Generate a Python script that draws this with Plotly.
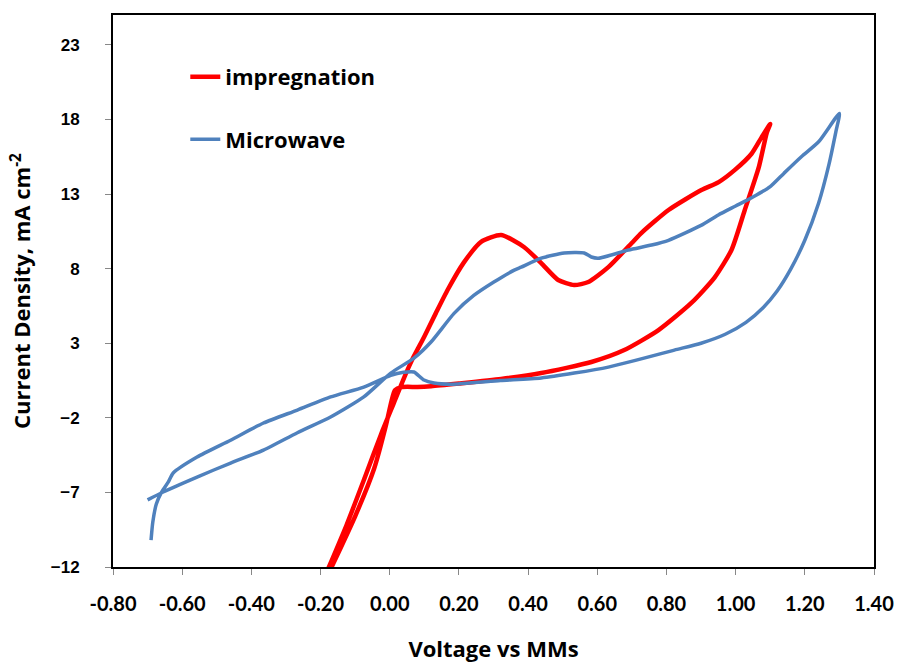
import plotly.graph_objects as go

# Impregnation (red) CV loop: voltage (V vs MMs), current density (mA cm^-2)
imp_v = [-0.168, -0.10, -0.045, -0.012, 0.005, 0.015, 0.035, 0.08, 0.12, 0.20, 0.322, 0.438,
         0.583, 0.678, 0.777, 0.872, 0.939, 0.988, 1.026, 1.067, 1.09, 1.10,
         1.075, 1.046, 0.997, 0.951, 0.901, 0.806, 0.728, 0.699, 0.632, 0.574, 0.533, 0.487, 0.438,
         0.388, 0.322, 0.264, 0.214, 0.168, 0.133, 0.099, 0.065, 0.04, 0.012,
         -0.025, -0.072, -0.125, -0.185]
imp_j = [-12.0, -8.6, -5.4, -2.6, -0.9, -0.15, 0.06, 0.07, 0.12, 0.3, 0.6, 1.0,
         1.74, 2.54, 3.88, 5.7, 7.4, 9.25, 11.9, 14.8, 17.1, 17.7,
         16.8, 15.7, 14.6, 13.8, 13.27, 11.93, 10.4, 9.7, 8.1, 7.1, 6.9, 7.24, 8.37,
         9.45, 10.25, 9.8, 8.4, 6.6, 5.0, 3.4, 1.9, 0.6, -1.0,
         -3.1, -6.0, -9.2, -12.5]

# Microwave (blue) CV loop
mw_v = [-0.69, -0.685, -0.675, -0.66, -0.64, -0.626, -0.557, -0.46, -0.365, -0.267, -0.171,
        -0.075, 0.003, 0.04, 0.07, 0.099, 0.128, 0.177, 0.32, 0.438, 0.632, 0.823, 0.9,
        0.97, 1.03, 1.08, 1.12, 1.16, 1.20, 1.24, 1.27, 1.29, 1.30,
        1.24, 1.19, 1.14, 1.10, 1.05, 1.0, 0.95, 0.90, 0.806, 0.757, 0.69, 0.603,
        0.583, 0.562, 0.504, 0.438, 0.38, 0.36, 0.301, 0.243, 0.186, 0.12, 0.07,
        0.003, -0.075, -0.171, -0.267, -0.365, -0.46, -0.557, -0.655, -0.70]
mw_j = [-10.2, -9.0, -7.8, -7.0, -6.3, -5.7, -4.63, -3.5, -2.35, -1.48, -0.6,
        0.06, 0.85, 1.05, 1.07, 0.53, 0.33, 0.25, 0.5, 0.67, 1.4, 2.54, 3.0,
        3.6, 4.4, 5.4, 6.5, 8.0, 9.9, 12.4, 15.0, 17.2, 18.4,
        16.5, 15.5, 14.4, 13.5, 12.8, 12.2, 11.6, 10.9, 9.9, 9.58, 9.25, 8.7,
        8.78, 9.05, 9.05, 8.7, 8.1, 7.9, 7.1, 6.2, 5.0, 3.1, 2.0,
        1.0, -0.6, -1.95, -3.0, -4.16, -5.03, -5.97, -6.97, -7.5]

x_ticks = [-0.8, -0.6, -0.4, -0.2, 0.0, 0.2, 0.4, 0.6, 0.8, 1.0, 1.2, 1.4]
x_ticktext = ["-0.80", "-0.60", "-0.40", "-0.20", "0.00", "0.20", "0.40", "0.60",
              "0.80", "1.00", "1.20", "1.40"]
y_ticks = [-12, -7, -2, 3, 8, 13, 18, 23]

fig = go.Figure()
fig.add_trace(go.Scatter(x=imp_v, y=imp_j, mode="lines", name="impregnation",
                         legendgroup="a",
                         line=dict(color="#FF0000", width=4.5, shape="spline", smoothing=0.6)))
fig.add_trace(go.Scatter(x=mw_v, y=mw_j, mode="lines", name="Microwave",
                         legendgroup="b",
                         line=dict(color="#4F81BD", width=3.5, shape="spline", smoothing=0.6)))

axis_common = dict(showline=True, linecolor="black", linewidth=2, mirror=True,
                   ticks="outside", ticklen=6, tickcolor="#888888", showgrid=False,
                   zeroline=False, automargin=False)

fig.update_layout(
    width=899, height=663,
    margin=dict(l=113, r=25, t=15, b=96),
    plot_bgcolor="white", paper_bgcolor="white",
    xaxis=dict(range=[-0.8, 1.4], tickvals=x_ticks, ticktext=x_ticktext,
               tickfont=dict(family="Lato", size=20, color="black", weight="bold"),
               ticklabelstandoff=12,
               title=dict(text="Voltage vs MMs", standoff=36,
                          font=dict(family="Open Sans", size=22, color="black", weight="bold")),
               **axis_common),
    yaxis=dict(range=[-12, 25], tickvals=y_ticks,
               tickfont=dict(family="Liberation Sans", size=17, color="black", weight="bold"),
               ticklabelstandoff=22,
               title=dict(text="Current Density, mA cm<sup>-2</sup>", standoff=14,
                          font=dict(family="Open Sans", size=22, color="black", weight="bold")),
               **axis_common),
    legend=dict(x=0.095, y=0.926, xanchor="left", yanchor="top",
                bgcolor="rgba(0,0,0,0)", traceorder="grouped", tracegroupgap=31,
                font=dict(family="Open Sans", size=22, color="black", weight="bold")),
    showlegend=True,
)

fig.write_html("out.html")
